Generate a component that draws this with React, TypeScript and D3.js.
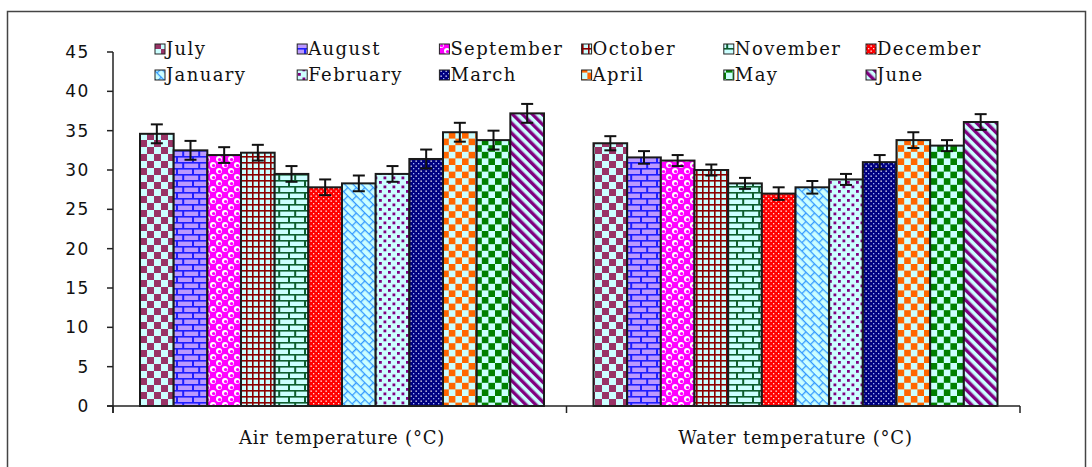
import React from "react";
import * as d3 from "d3";

const months = ["July", "August", "September", "October", "November", "December", "January", "February", "March", "April", "May", "June"];
const groups = ["Air temperature (°C)", "Water temperature (°C)"];
const airValues = [34.6, 32.5, 31.9, 32.2, 29.5, 27.8, 28.3, 29.5, 31.4, 34.8, 33.8, 37.2];
const airErrors = [1.2, 1.2, 1.0, 1.0, 1.0, 1.0, 1.0, 1.0, 1.2, 1.2, 1.2, 1.2];
const waterValues = [33.4, 31.6, 31.2, 30.0, 28.3, 27.0, 27.8, 28.8, 31.0, 33.8, 33.1, 36.1];
const waterErrors = [0.9, 0.8, 0.7, 0.7, 0.7, 0.8, 0.8, 0.7, 0.9, 1.0, 0.7, 1.0];
const yTicks = [0, 5, 10, 15, 20, 25, 30, 35, 40, 45];

const CY = "#CCFFFF";
const SERIF = "DejaVu Serif, serif";

function Patterns() {
  const checker = (id: string, c: string, s: number) => (
    <pattern id={id} patternUnits="userSpaceOnUse" width={s * 2} height={s * 2}>
      <rect width={s * 2} height={s * 2} fill={CY} />
      <rect x={0} y={0} width={s} height={s} fill={c} />
      <rect x={s} y={s} width={s} height={s} fill={c} />
    </pattern>
  );
  const brick = (id: string, mortar: string, b: string) => (
    <pattern id={id} patternUnits="userSpaceOnUse" width={16} height={12}>
      <rect width={16} height={12} fill={mortar} />
      <rect x={2} y={1.6} width={14} height={4.4} fill={b} />
      <rect x={0} y={7.6} width={6.2} height={4.4} fill={b} />
      <rect x={8.2} y={7.6} width={7.8} height={4.4} fill={b} />
    </pattern>
  );
  return (
    <defs>
      {checker("p0", "#993366", 7)}
      {brick("p1", "#1f1fff", "#bb99ff")}
      <pattern id="p2" patternUnits="userSpaceOnUse" width={12} height={12}>
        <rect width={12} height={12} fill="#FF00FF" />
        <circle cx={3} cy={3} r={3} fill="#ffffff" />
        <circle cx={9} cy={9} r={3} fill="#ffffff" />
        <circle cx={3.6} cy={3.6} r={1.7} fill="#FF00FF" />
        <circle cx={9.6} cy={9.6} r={1.7} fill="#FF00FF" />
      </pattern>
      <pattern id="p3" patternUnits="userSpaceOnUse" width={6} height={6}>
        <rect width={6} height={6} fill={CY} />
        <rect x={0} y={0} width={6} height={1.6} fill="#8B0000" />
        <rect x={0} y={0} width={1.6} height={6} fill="#8B0000" />
      </pattern>
      {brick("p4", "#0e5e2e", CY)}
      <pattern id="p5" patternUnits="userSpaceOnUse" width={5} height={5}>
        <rect width={5} height={5} fill="#FF0000" />
        <rect x={0.5} y={0.5} width={1.3} height={1.3} fill="#ffffff" />
        <rect x={3} y={3} width={1.3} height={1.3} fill="#ffdddd" />
      </pattern>
      <pattern id="p6" patternUnits="userSpaceOnUse" width={12} height={12} patternTransform="rotate(45)">
        <rect width={12} height={12} fill={CY} />
        <line x1={0} y1={0.6} x2={12} y2={0.6} stroke="#3399FF" strokeWidth={1.3} />
        <line x1={0} y1={6.6} x2={12} y2={6.6} stroke="#3399FF" strokeWidth={1.3} />
        <line x1={0.6} y1={0} x2={0.6} y2={6} stroke="#3399FF" strokeWidth={1.3} />
        <line x1={6.6} y1={6} x2={6.6} y2={12} stroke="#3399FF" strokeWidth={1.3} />
      </pattern>
      <pattern id="p7" patternUnits="userSpaceOnUse" width={9} height={9}>
        <rect width={9} height={9} fill={CY} />
        <rect x={1} y={1} width={2.8} height={2.8} fill="#800080" />
        <rect x={5.5} y={5.5} width={2.8} height={2.8} fill="#800080" />
      </pattern>
      <pattern id="p8" patternUnits="userSpaceOnUse" width={5} height={5}>
        <rect width={5} height={5} fill="#000080" />
        <rect x={0.5} y={0.5} width={1.3} height={1.3} fill="#ffffff" />
        <rect x={3} y={3} width={1.3} height={1.3} fill="#9fb0ff" />
      </pattern>
      {checker("p9", "#FF6600", 6.6)}
      {checker("p10", "#008000", 6.6)}
      <pattern id="p11" patternUnits="userSpaceOnUse" width={7} height={7} patternTransform="rotate(-45)">
        <rect width={7} height={7} fill={CY} />
        <rect x={0} y={0} width={3.4} height={7} fill="#800080" />
      </pattern>
    </defs>
  );
}

export default function App() {
  const W = 1092;
  const H = 467;
  const y = d3.scaleLinear().domain([0, 45]).range([406, 52]);
  const xg = d3.scaleBand<string>().domain(groups).range([113, 1020]).padding(0);
  const xm = d3.scaleBand<string>().domain(months).range([27, 431]).padding(0);
  const series = [
    { vals: airValues, errs: airErrors },
    { vals: waterValues, errs: waterErrors },
  ];
  const legendX = d3.scaleLinear().domain([0, 5]).range([155, 866]);
  const axisColor = "#222";

  return (
    <svg width={W} height={H} style={{ position: "absolute", left: 0, top: 0, background: "#fff" }}>
      <Patterns />
      <rect x={7.5} y={11.5} width={1078} height={480} fill="#fff" stroke="#444" strokeWidth={1.5} />

      {groups.map((g, gi) => (
        <g key={g}>
          {months.map((m, mi) => {
            const v = series[gi].vals[mi];
            const e = series[gi].errs[mi];
            const x0 = (xg(g) as number) + (xm(m) as number);
            const bw = xm.bandwidth();
            const cx = x0 + bw / 2;
            return (
              <g key={m}>
                <rect x={x0} y={y(v)} width={bw} height={y(0) - y(v)} fill={`url(#p${mi})`} stroke="#1a1a1a" strokeWidth={2} />
                <line x1={cx} x2={cx} y1={y(v + e)} y2={y(v - e)} stroke="#111" strokeWidth={2} />
                <line x1={cx - 6} x2={cx + 6} y1={y(v + e)} y2={y(v + e)} stroke="#111" strokeWidth={2} />
                <line x1={cx - 6} x2={cx + 6} y1={y(v - e)} y2={y(v - e)} stroke="#111" strokeWidth={2} />
              </g>
            );
          })}
        </g>
      ))}

      <line x1={113} x2={113} y1={y(45)} y2={y(0) + 7} stroke={axisColor} strokeWidth={1.5} />
      <line x1={107} x2={1020} y1={y(0)} y2={y(0)} stroke={axisColor} strokeWidth={1.5} />
      {yTicks.map((t) => (
        <g key={t}>
          <line x1={107} x2={113} y1={y(t)} y2={y(t)} stroke={axisColor} strokeWidth={1.5} />
          <text x={90} y={y(t)} dy="0.36em" textAnchor="end" fontFamily="DejaVu Sans, sans-serif" fontSize={17} letterSpacing={1.6} fill="#111">
            {t}
          </text>
        </g>
      ))}
      {[...groups.map((g) => xg(g) as number), 1020].map((xt, i) => (
        <line key={i} x1={xt} x2={xt} y1={y(0)} y2={y(0) + 7} stroke={axisColor} strokeWidth={1.5} />
      ))}
      {groups.map((g) => (
        <text key={g} x={(xg(g) as number) + 27 + 202} y={444} textAnchor="middle" fontFamily={SERIF} fontSize={18} letterSpacing={0.8} fill="#111">
          {g}
        </text>
      ))}

      {months.map((m, i) => {
        const row = Math.floor(i / 6);
        const col = i % 6;
        const lx = legendX(col);
        const by = 55 + row * 26;
        return (
          <g key={m}>
            <rect x={lx} y={by - 11} width={10} height={10} fill={`url(#p${i})`} stroke="#222" strokeWidth={1} />
            <text x={lx + 11} y={by} fontFamily={SERIF} fontSize={18} letterSpacing={1.4} fill="#111">
              {m}
            </text>
          </g>
        );
      })}
    </svg>
  );
}
